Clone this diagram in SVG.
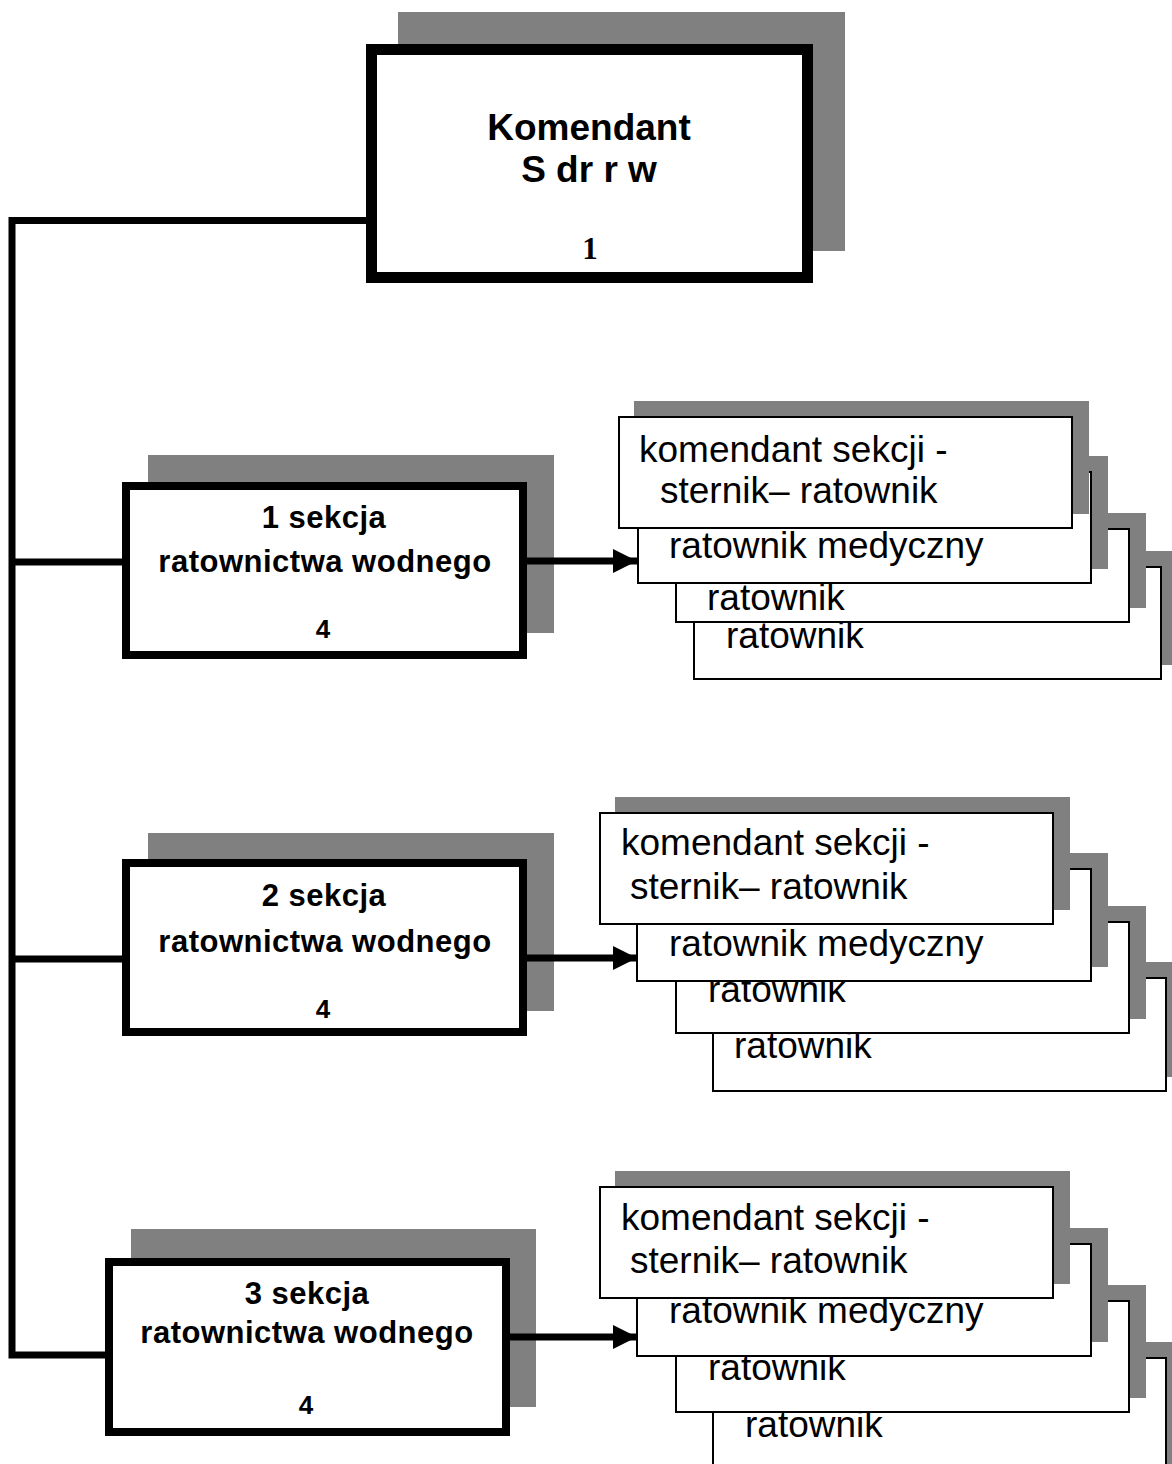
<svg xmlns="http://www.w3.org/2000/svg" width="1172" height="1464" viewBox="0 0 1172 1464">
<style>
.shadow{fill:#808080}
.main{fill:#fff;stroke:#000}
.card{fill:#fff;stroke:#000;stroke-width:2}
.conn{fill:none;stroke:#000;stroke-width:7;stroke-linejoin:miter}
.tb{font-family:"Liberation Sans",Arial,sans-serif;font-weight:bold;text-anchor:middle;fill:#000}
.ts{font-family:"Liberation Sans",Arial,sans-serif;font-weight:bold;text-anchor:middle;fill:#000;font-size:31px;letter-spacing:0.5px}
.n4{font-family:"Liberation Sans",Arial,sans-serif;font-weight:bold;text-anchor:middle;fill:#000;font-size:26px}
.num{font-family:"Liberation Serif","Times New Roman",serif;font-weight:bold;text-anchor:middle;fill:#000}
.ct{font-family:"Liberation Sans",Arial,sans-serif;font-size:37px;fill:#000}
</style>
<defs>
<marker id="arrow" viewBox="0 0 24 24" refX="24" refY="12" markerWidth="24" markerHeight="24" markerUnits="userSpaceOnUse" orient="auto">
<path d="M0,0 L24,12 L0,24 Z" fill="#000"/>
</marker>
</defs>
<rect width="1172" height="1464" fill="#fff"/>

<g id="komendant">
<rect class="shadow" x="398" y="12" width="447" height="239"/>
<rect class="main" stroke-width="11" x="371.5" y="49.5" width="436" height="228"/>
<text class="tb" x="589" y="140" font-size="37">Komendant</text>
<text class="tb" x="589" y="182" font-size="37">S dr r w</text>
<text class="num" x="590" y="259" font-size="31">1</text>
</g>

<g id="sekcja1">
<rect class="shadow" x="148" y="455" width="406" height="178"/>
<rect class="main" stroke-width="8" x="126" y="486" width="397" height="169"/>
<text class="ts" x="324" y="528">1 sekcja</text>
<text class="ts" x="325" y="572">ratownictwa wodnego</text>
<text class="n4" x="323" y="638">4</text>
</g>

<g id="sekcja2">
<rect class="shadow" x="148" y="833" width="406" height="178"/>
<rect class="main" stroke-width="8" x="126" y="863" width="397" height="169"/>
<text class="ts" x="324" y="906">2 sekcja</text>
<text class="ts" x="325" y="952">ratownictwa wodnego</text>
<text class="n4" x="323" y="1018">4</text>
</g>

<g id="sekcja3">
<rect class="shadow" x="131" y="1229" width="405" height="178"/>
<rect class="main" stroke-width="8" x="109" y="1262" width="397" height="170"/>
<text class="ts" x="307" y="1304">3 sekcja</text>
<text class="ts" x="307" y="1343">ratownictwa wodnego</text>
<text class="n4" x="306" y="1414">4</text>
</g>

<g id="sklad1">
<rect class="shadow" x="709" y="551" width="469" height="114"/>
<rect class="card" x="694" y="567" width="467" height="112"/>
<text class="ct" x="726" y="648">ratownik</text>
<rect class="shadow" x="691" y="513" width="455" height="95"/>
<rect class="card" x="676" y="529" width="453" height="93"/>
<text class="ct" x="707" y="610">ratownik</text>
<rect class="shadow" x="653" y="456" width="455" height="113"/>
<rect class="card" x="638" y="472" width="453" height="111"/>
<text class="ct" x="669" y="558">ratownik medyczny</text>
<rect class="shadow" x="634" y="401" width="455" height="113"/>
<rect class="card" x="619" y="417" width="453" height="111"/>
<text class="ct" x="639" y="462">komendant sekcji -</text>
<text class="ct" x="660" y="503">sternik– ratownik</text>
</g>

<g id="sklad2">
<rect class="shadow" x="728" y="962" width="455" height="115"/>
<rect class="card" x="713" y="978" width="453" height="113"/>
<text class="ct" x="734" y="1058">ratownik</text>
<rect class="shadow" x="691" y="906" width="455" height="113"/>
<rect class="card" x="676" y="922" width="453" height="111"/>
<text class="ct" x="708" y="1002">ratownik</text>
<rect class="shadow" x="652" y="853" width="456" height="114"/>
<rect class="card" x="637" y="869" width="454" height="112"/>
<text class="ct" x="669" y="956">ratownik medyczny</text>
<rect class="shadow" x="615" y="797" width="455" height="113"/>
<rect class="card" x="600" y="813" width="453" height="111"/>
<text class="ct" x="621" y="855">komendant sekcji -</text>
<text class="ct" x="630" y="899">sternik– ratownik</text>
</g>

<g id="sklad3">
<rect class="shadow" x="728" y="1342" width="455" height="130"/>
<rect class="card" x="713" y="1358" width="453" height="120"/>
<text class="ct" x="745" y="1437">ratownik</text>
<rect class="shadow" x="691" y="1285" width="455" height="113"/>
<rect class="card" x="676" y="1301" width="453" height="111"/>
<text class="ct" x="708" y="1380">ratownik</text>
<rect class="shadow" x="652" y="1228" width="456" height="114"/>
<rect class="card" x="637" y="1244" width="454" height="112"/>
<text class="ct" x="669" y="1323">ratownik medyczny</text>
<rect class="shadow" x="615" y="1171" width="455" height="113"/>
<rect class="card" x="600" y="1187" width="453" height="111"/>
<text class="ct" x="621" y="1230">komendant sekcji -</text>
<text class="ct" x="630" y="1273">sternik– ratownik</text>
</g>

<g id="connectors">
<path class="conn" d="M366,220.5 H12 V1355 H105"/>
<path class="conn" d="M12,562 H122"/>
<path class="conn" d="M12,959 H122"/>
<path class="conn" d="M523,561 H637" marker-end="url(#arrow)"/>
<path class="conn" d="M523,958 H637" marker-end="url(#arrow)"/>
<path class="conn" d="M506,1337 H637" marker-end="url(#arrow)"/>
</g>
</svg>
